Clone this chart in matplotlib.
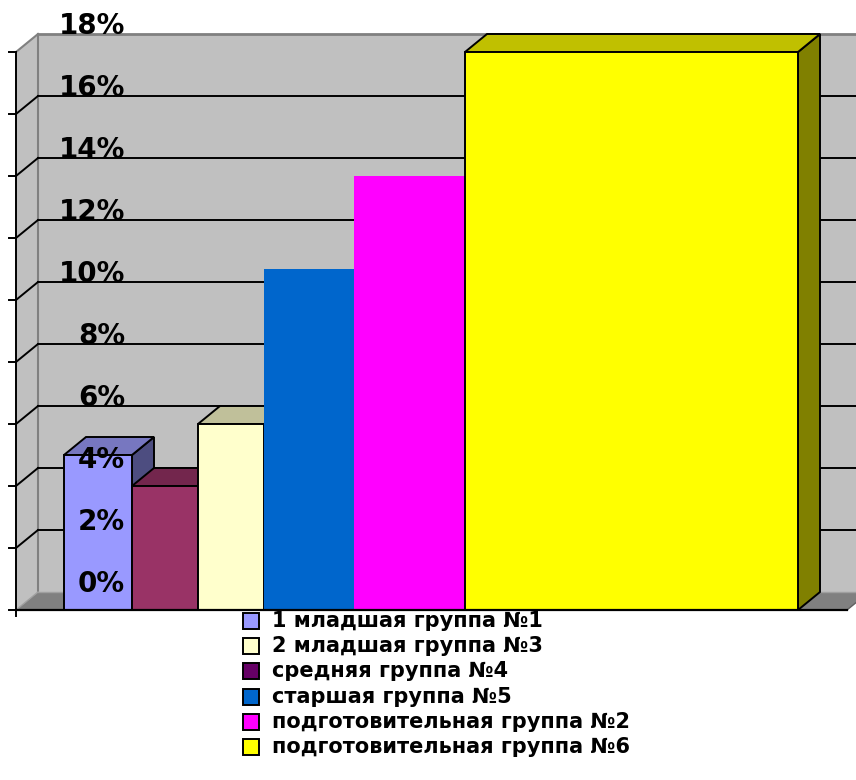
import matplotlib
matplotlib.use('Agg')
import matplotlib.pyplot as plt
from matplotlib.patches import Polygon, Rectangle

# groups in legend order
groups = ['1 младшая группа №1', '2 младшая группа №3', 'средняя группа №4',
          'старшая группа №5', 'подготовительная группа №2', 'подготовительная группа №6']
values = [5, 6, 4, 11, 14, 18]  # percent
ticks = [0, 2, 4, 6, 8, 10, 12, 14, 16, 18]
tick_labels = [f'{t}%' for t in ticks]

# styling
front_colors = ['#9999FF', '#FFFFCC', '#993366', '#0066CC', '#FF00FF', '#FFFF00']
top_colors = ['#7777C0', '#C0C09A', '#73264D', '#0066CC', '#FF00FF', '#C0C000']
side_colors = ['#4D4D80', '#808066', '#4D1A33', '#0066CC', '#FF00FF', '#808000']
legend_colors = ['#9999FF', '#FFFFCC', '#660066', '#0066CC', '#FF00FF', '#FFFF00']
flat = [False, False, False, True, True, False]
bar_order = [0, 2, 1, 3, 4, 5]
bar_edges = [64, 132, 198, 264, 354, 465, 798]  # pixel x positions of bars
font = ['DejaVu Sans']

W, H = 856, 780
fig = plt.figure(figsize=(W / 100, H / 100), dpi=100)
ax = fig.add_axes([0, 0, 1, 1])
# x in pixels, y in percent (front plane): 0% at 610px from top, 31px per 1%
px_per_pct = 31.0
y_front0 = 610
ax.set_xlim(0, W)
ax.set_ylim((y_front0 - H) / px_per_pct, y_front0 / px_per_pct)
ax.axis('off')

DX = 22
DZ = 18 / px_per_pct
x_left = 16
x_right = 847
ymax = ticks[-1]

# walls and floor
ax.add_patch(Polygon([(x_left, 0), (x_left + DX, DZ), (x_right + DX, DZ), (x_right, 0)],
                     closed=True, facecolor='#808080', edgecolor='none', zorder=1))
ax.add_patch(Rectangle((x_left + DX, DZ), x_right - x_left, ymax, facecolor='#C0C0C0',
                       edgecolor='none', zorder=1))
ax.add_patch(Polygon([(x_left, 0), (x_left + DX, DZ), (x_left + DX, ymax + DZ), (x_left, ymax)],
                     closed=True, facecolor='#C0C0C0', edgecolor='none', zorder=1))

# wall outlines
ax.plot([x_left + DX, x_left + DX], [DZ, ymax + DZ], color='#808080', lw=1.5, zorder=2)
ax.plot([x_left + DX, W + 20], [ymax + DZ, ymax + DZ], color='#808080', lw=2, zorder=2)
ax.plot([x_left, x_left + DX], [ymax, ymax + DZ], color='#808080', lw=1.5, zorder=2)
ax.plot([x_left, x_left + DX], [0, DZ], color='#A0A0A0', lw=1, zorder=2)
ax.plot([x_left + DX, W + 20], [DZ, DZ], color='#A0A0A0', lw=1, zorder=2)

# gridlines on the back and side walls
for t in ticks[1:-1]:
    ax.plot([x_left + DX, W + 20], [t + DZ, t + DZ], color='black', lw=1.4, zorder=2)
    ax.plot([x_left, x_left + DX], [t, t + DZ], color='black', lw=1.4, zorder=2)

# front axis
ax.plot([x_left, x_left], [0, ymax], color='black', lw=1.4, zorder=6)
for t in ticks:
    ax.plot([x_left - 7, x_left], [t, t], color='black', lw=1.4, zorder=6)
ax.plot([x_left, x_left], [0, -0.2], color='black', lw=1.4, zorder=6)
ax.plot([x_left, x_right], [0, 0], color='black', lw=1.6, zorder=6)
ax.plot([x_right, x_right + DX], [0, DZ], color='#606060', lw=1, zorder=2)

# bars
z = 3
for pos, i in enumerate(bar_order):
    x0, x1 = bar_edges[pos], bar_edges[pos + 1]
    v = values[i]
    if flat[i]:
        ax.add_patch(Rectangle((x0, 0), x1 - x0, v, facecolor=front_colors[i],
                               edgecolor='none', zorder=z))
    else:
        ax.add_patch(Polygon([(x1, 0), (x1 + DX, DZ), (x1 + DX, v + DZ), (x1, v)], closed=True,
                             facecolor=side_colors[i], edgecolor='black', lw=1.4, zorder=z))
        ax.add_patch(Polygon([(x0, v), (x1, v), (x1 + DX, v + DZ), (x0 + DX, v + DZ)], closed=True,
                             facecolor=top_colors[i], edgecolor='black', lw=1.4, zorder=z))
        ax.add_patch(Rectangle((x0, 0), x1 - x0, v, facecolor=front_colors[i],
                               edgecolor='black', lw=1.4, zorder=z))
    z += 0.1

# value axis labels (drawn over the bars)
for t, lab in zip(ticks, tick_labels):
    ax.text(125, t + DZ + 8 / px_per_pct, lab, ha='right', va='center',
            fontsize=20, fontweight='bold', family=font, zorder=10)

# legend
row_y = 621
for i, g in enumerate(groups):
    yc = 1 - row_y / H
    fig.patches.append(Rectangle((243 / W, yc - 8 / H), 16 / W, 16 / H, transform=fig.transFigure,
                                 facecolor=legend_colors[i], edgecolor='black', lw=1.4))
    fig.text(272 / W, yc, g, ha='left', va='center', fontsize=15, fontweight='bold',
             family=font)
    row_y += 25.2

fig.savefig('out.png', dpi=100)
